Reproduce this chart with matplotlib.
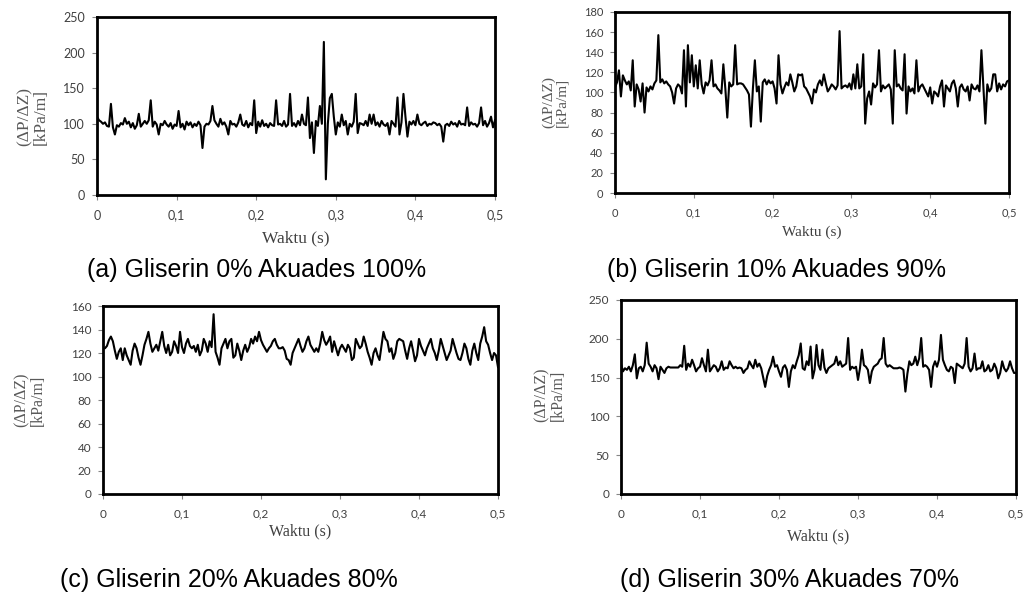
import numpy as np
import matplotlib
matplotlib.use("Agg")
import matplotlib.pyplot as plt
from matplotlib.ticker import FuncFormatter, MultipleLocator

# time axis: 0 .. 0.5 s, dt = 0.0025 s
waktu = np.linspace(0, 0.5, 201)

# (a) Gliserin 0% Akuades 100%
dp_a = [
    110, 105, 103, 100, 102, 97, 96, 128, 95, 85, 98, 96, 101, 99, 108, 100, 103, 95, 101, 93,
    98, 114, 96, 100, 104, 100, 105, 133, 96, 103, 99, 85, 100, 98, 104, 99, 96, 101, 93, 99,
    97, 118, 95, 100, 92, 103, 98, 102, 95, 100, 97, 103, 98, 66, 96, 100, 99, 104, 125, 105,
    100, 96, 107, 99, 102, 96, 85, 104, 99, 100, 96, 102, 113, 99, 97, 104, 95, 101, 98, 133,
    87, 103, 96, 105, 97, 100, 95, 101, 98, 97, 133, 99, 100, 97, 104, 96, 99, 142, 97, 101,
    96, 104, 98, 113, 100, 98, 137, 80, 102, 59, 104, 97, 125, 100, 215, 22, 100, 136, 142, 110,
    85, 102, 96, 113, 98, 104, 85, 100, 96, 103, 142, 87, 101, 100, 98, 104, 97, 113, 100, 113,
    98, 102, 96, 104, 99, 97, 101, 85, 104, 100, 96, 137, 85, 102, 142, 110, 82, 103, 99, 104,
    98, 113, 100, 98, 101, 103, 97, 100, 99, 102, 101, 98, 100, 96, 75, 98, 100, 97, 103, 99,
    101, 96, 104, 99, 100, 98, 123, 97, 102, 99, 100, 96, 101, 123, 98, 104, 96, 101, 110, 95, 105,
]

# (b) Gliserin 10% Akuades 90%
dp_b = [
    105, 110, 122, 96, 117, 112, 108, 111, 102, 132, 86, 108, 103, 91, 109, 80, 105, 101, 106, 103,
    109, 112, 157, 110, 113, 109, 111, 108, 106, 100, 89, 104, 108, 106, 99, 142, 86, 147, 110, 137,
    106, 127, 104, 132, 108, 99, 110, 107, 112, 132, 106, 108, 104, 102, 99, 128, 104, 75, 110, 106,
    108, 147, 108, 109, 109, 108, 105, 102, 98, 66, 104, 132, 101, 106, 71, 110, 113, 108, 112, 109,
    111, 104, 89, 137, 108, 99, 105, 110, 107, 118, 110, 101, 106, 118, 117, 118, 106, 104, 100, 96,
    89, 103, 100, 108, 112, 107, 118, 109, 101, 104, 108, 106, 103, 107, 161, 104, 106, 107, 105, 109,
    103, 118, 104, 128, 104, 106, 138, 69, 94, 101, 88, 109, 105, 108, 142, 101, 107, 104, 106, 108,
    103, 69, 142, 106, 108, 104, 102, 138, 79, 106, 101, 104, 99, 132, 101, 106, 108, 104, 100, 96,
    105, 89, 101, 99, 96, 106, 112, 86, 107, 104, 101, 109, 112, 104, 86, 105, 108, 103, 101, 106,
    92, 108, 104, 103, 107, 101, 142, 106, 69, 108, 101, 104, 118, 118, 101, 109, 103, 108, 106, 111, 112,
]

# (c) Gliserin 20% Akuades 80%
dp_c = [
    124, 124, 126, 131, 134, 130, 122, 115, 121, 124, 114, 124, 118, 114, 110, 122, 128, 124, 116, 110,
    118, 127, 132, 138, 128, 121, 124, 127, 122, 130, 138, 126, 120, 127, 118, 121, 130, 126, 120, 138,
    125, 120, 128, 132, 126, 124, 126, 121, 127, 118, 122, 132, 128, 121, 130, 125, 153, 121, 116, 110,
    124, 128, 132, 124, 130, 132, 116, 118, 128, 122, 114, 122, 127, 121, 125, 132, 128, 134, 130, 138,
    131, 127, 124, 121, 124, 126, 130, 132, 127, 124, 124, 125, 122, 115, 114, 110, 120, 124, 128, 132,
    126, 121, 124, 130, 134, 127, 124, 121, 124, 121, 128, 138, 131, 127, 130, 134, 121, 130, 124, 118,
    124, 127, 124, 121, 127, 124, 114, 116, 132, 128, 124, 126, 134, 128, 121, 116, 110, 120, 124, 118,
    114, 126, 138, 132, 130, 121, 124, 115, 120, 130, 132, 131, 130, 122, 115, 124, 130, 122, 113, 118,
    132, 126, 122, 118, 124, 128, 132, 124, 120, 114, 122, 132, 126, 120, 114, 118, 122, 132, 126, 120,
    115, 114, 120, 128, 124, 115, 110, 122, 128, 120, 114, 128, 134, 142, 130, 127, 120, 114, 120, 118, 108,
]

# (d) Gliserin 30% Akuades 70%
dp_d = [
    168, 158, 162, 160, 164, 158, 166, 180, 149, 162, 164, 158, 166, 195, 168, 164, 158, 166, 162, 148,
    164, 160, 156, 162, 164, 163, 163, 163, 163, 163, 166, 164, 191, 160, 168, 164, 173, 166, 158, 162,
    164, 175, 166, 158, 186, 158, 162, 166, 164, 158, 162, 171, 160, 163, 162, 171, 166, 162, 164, 162,
    163, 162, 156, 160, 162, 171, 166, 162, 173, 164, 168, 162, 150, 138, 152, 160, 166, 177, 164, 166,
    158, 151, 163, 166, 160, 138, 158, 166, 162, 171, 179, 194, 162, 160, 171, 166, 190, 149, 160, 192,
    166, 160, 186, 163, 156, 162, 164, 166, 168, 177, 166, 171, 164, 166, 168, 201, 160, 164, 162, 164,
    147, 162, 186, 166, 164, 160, 143, 158, 164, 166, 168, 173, 175, 201, 168, 164, 166, 164, 162, 162,
    162, 163, 162, 160, 132, 155, 171, 166, 168, 177, 166, 175, 201, 164, 166, 164, 160, 138, 164, 171,
    164, 173, 205, 173, 166, 160, 158, 164, 162, 143, 168, 166, 164, 162, 168, 201, 164, 158, 162, 181,
    160, 162, 162, 171, 158, 160, 166, 158, 160, 168, 162, 149, 156, 171, 162, 158, 162, 171, 162, 156, 156,
]

captions = [
    "(a) Gliserin 0% Akuades 100%",
    "(b) Gliserin 10% Akuades 90%",
    "(c) Gliserin 20% Akuades 80%",
    "(d) Gliserin 30% Akuades 70%",
]
y_max = [250, 180, 160, 250]
y_step = [50, 20, 20, 50]

W, H = 1027, 595
fig = plt.figure(figsize=(W / 100, H / 100), dpi=100)


def px_axes(left, top, right, bottom):
    # axes box from pixel edges
    return fig.add_axes([left / W, 1 - bottom / H, (right - left) / W, (bottom - top) / H])


comma = FuncFormatter(lambda v, pos: "0" if abs(v) < 1e-9 else f"{v:.1f}".replace(".", ","))

panels = [
    # box (l, t, r, b), tick size, ylabel pos, xlabel y, label size
    dict(box=(97, 17, 495, 195), tsize=9, ylab=(-0.161, 0.44), xlab=-0.20, lsize=12.5),
    dict(box=(615, 12, 1009, 193), tsize=8, ylab=(-0.152, 0.50), xlab=-0.18, lsize=11),
    dict(box=(103, 306, 498, 494), tsize=8.5, ylab=(-0.185, 0.50), xlab=-0.155, lsize=11.5),
    dict(box=(621, 300, 1016, 494), tsize=8.5, ylab=(-0.18, 0.51), xlab=-0.175, lsize=11.5),
]
series = [dp_a, dp_b, dp_c, dp_d]

for i, p in enumerate(panels):
    ax = px_axes(*p["box"])
    ax.plot(waktu, series[i], color="black", linewidth=1.5)
    ax.set_xlim(0, 0.5)
    ax.set_ylim(0, y_max[i])
    ax.xaxis.set_major_locator(MultipleLocator(0.1))
    ax.yaxis.set_major_locator(MultipleLocator(y_step[i]))
    ax.xaxis.set_major_formatter(comma)
    for sp in ax.spines.values():
        sp.set_linewidth(2)
        sp.set_color("black")
    ax.tick_params(direction="out", length=3.5, width=0.8, color="#868686",
                   labelsize=p["tsize"], labelcolor="#404040", pad=5)
    ax.tick_params(axis="x", pad=7)
    for lab in ax.get_xticklabels() + ax.get_yticklabels():
        lab.set_family("Lato")
    ax.set_xlabel("Waktu (s)", family="Liberation Serif", fontsize=p["lsize"], color="#404040")
    ax.xaxis.set_label_coords(0.5, p["xlab"])
    ax.set_ylabel("(\u0394P/\u0394Z)\n[kPa/m]", family="Liberation Serif", fontsize=p["lsize"],
                  color="#595959", va="center", ha="center", linespacing=1.05)
    ax.yaxis.set_label_coords(*p["ylab"])

# captions under each panel
cap_pos = [(87, 270), (607, 270), (60, 580), (620, 580)]
for cap, (cx, cy) in zip(captions, cap_pos):
    fig.text(cx / W, 1 - cy / H, cap, family="Liberation Sans", fontsize=18, va="center")

fig.savefig("out.png", dpi=100)
